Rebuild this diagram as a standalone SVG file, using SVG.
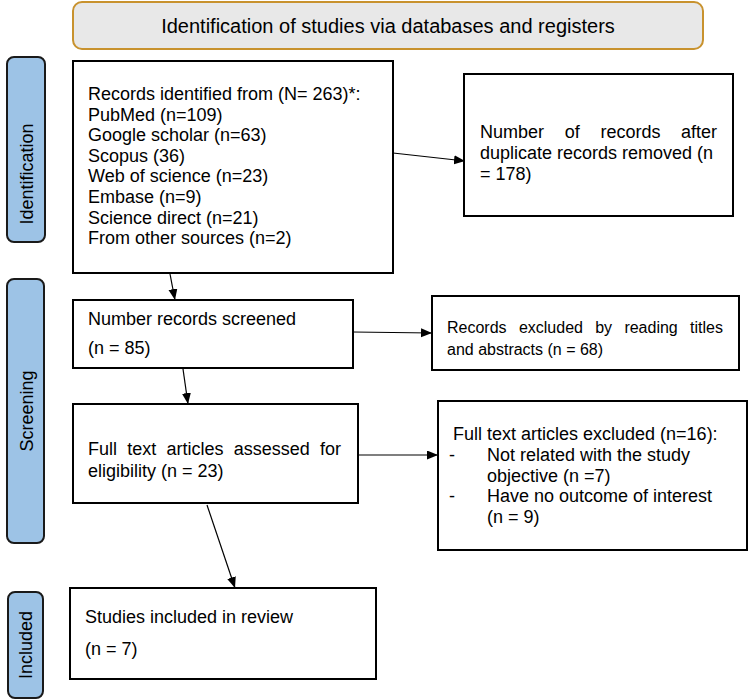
<svg xmlns="http://www.w3.org/2000/svg" width="750" height="700" viewBox="0 0 750 700">
<defs>
<marker id="ah" markerUnits="userSpaceOnUse" markerWidth="12" markerHeight="10" refX="11" refY="4.5" orient="auto">
<path d="M0,0 L11,4.5 L0,9 z" fill="#000"/>
</marker>
<style>
text{font-family:"Liberation Sans",Arial,sans-serif;font-size:18px;fill:#000}
.box{fill:#fff;stroke:#000;stroke-width:2}
.bar{fill:#9dc3e6;stroke:#1a1a1a;stroke-width:2}
.conn{stroke:#000;stroke-width:1.2;fill:none;marker-end:url(#ah)}
.s16{font-size:16px}
</style>
</defs>
<rect width="750" height="700" fill="#fff"/>

<g id="header">
<rect x="73" y="2" width="630" height="47" rx="9" fill="#e8e8e8" stroke="#c8922e" stroke-width="2"/>
<text x="388" y="32.5" text-anchor="middle" style="font-size:20px">Identification of studies via databases and registers</text>
</g>

<g id="bar-identification">
<rect class="bar" x="7" y="57" width="38" height="185" rx="7"/>
<text transform="translate(33,174) rotate(-90)" text-anchor="middle">Identification</text>
</g>
<g id="bar-screening">
<rect class="bar" x="7" y="279" width="37" height="264" rx="7"/>
<text transform="translate(32.5,411) rotate(-90)" text-anchor="middle">Screening</text>
</g>
<g id="bar-included">
<rect class="bar" x="8" y="592" width="35" height="106" rx="7"/>
<text transform="translate(32,645) rotate(-90)" text-anchor="middle">Included</text>
</g>

<g id="records">
<rect class="box" x="73" y="61" width="320" height="212"/>
<text x="88" y="100">Records identified from (N= 263)*:</text>
<text x="88" y="120.6">PubMed (n=109)</text>
<text x="88" y="141.2">Google scholar (n=63)</text>
<text x="88" y="161.8">Scopus (36)</text>
<text x="88" y="182.4">Web of science (n=23)</text>
<text x="88" y="203">Embase (n=9)</text>
<text x="88" y="223.6">Science direct (n=21)</text>
<text x="88" y="244.2">From other sources (n=2)</text>
</g>

<g id="duplicates">
<rect class="box" x="464" y="74" width="269" height="142"/>
<text y="138"><tspan x="480">Number</tspan><tspan x="564.7">of</tspan><tspan x="600.4">records</tspan></text>
<text x="717" y="138" text-anchor="end">after</text>
<text x="480" y="159">duplicate records removed (n</text>
<text x="480" y="180">= 178)</text>
</g>

<g id="screened">
<rect class="box" x="73" y="300" width="280" height="68"/>
<text x="88" y="325">Number records screened</text>
<text x="88" y="354">(n = 85)</text>
</g>

<g id="excluded-titles">
<rect class="box" x="432" y="296" width="307" height="74"/>
<text class="s16" y="333"><tspan x="447">Records</tspan><tspan x="518.9">excluded</tspan><tspan x="595.2">by</tspan><tspan x="624.4">reading</tspan></text>
<text class="s16" x="723" y="333" text-anchor="end">titles</text>
<text class="s16" x="447" y="355">and abstracts (n = 68)</text>
</g>

<g id="fulltext">
<rect class="box" x="73" y="404" width="285" height="99"/>
<text y="455"><tspan x="88">Full</tspan><tspan x="127.3">text</tspan><tspan x="166.5">articles</tspan><tspan x="233.8">assessed</tspan></text>
<text x="341" y="455" text-anchor="end">for</text>
<text x="88" y="477">eligibility (n = 23)</text>
</g>

<g id="fulltext-excluded">
<rect class="box" x="438" y="401" width="309" height="149"/>
<text x="453" y="440">Full text articles excluded (n=16):</text>
<text x="449" y="460.8">-</text>
<text x="487" y="460.8">Not related with the study</text>
<text x="487" y="481.6">objective (n =7)</text>
<text x="449" y="502.4">-</text>
<text x="487" y="502.4">Have no outcome of interest</text>
<text x="487" y="523.2">(n = 9)</text>
</g>

<g id="included">
<rect class="box" x="70" y="588" width="306" height="91"/>
<text x="85" y="623">Studies included in review</text>
<text x="85" y="655">(n = 7)</text>
</g>

<g id="connectors">
<line class="conn" x1="393" y1="153" x2="465" y2="161"/>
<line class="conn" x1="170" y1="274" x2="175" y2="300"/>
<line class="conn" x1="353" y1="332" x2="432" y2="333"/>
<line class="conn" x1="183" y1="369" x2="188" y2="404"/>
<line class="conn" x1="358" y1="455" x2="438" y2="455"/>
<line class="conn" x1="207" y1="505" x2="235" y2="588"/>
</g>
</svg>
